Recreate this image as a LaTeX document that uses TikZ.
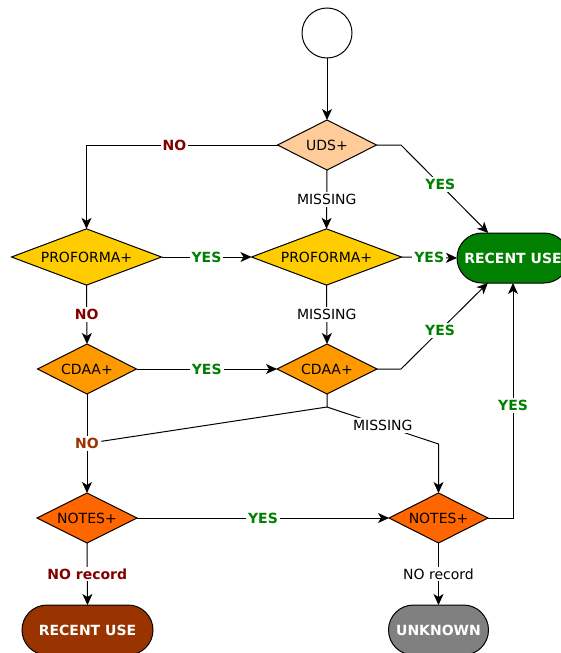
\documentclass[tikz,border=0pt]{standalone}
\usepackage{fontspec}
\setmainfont{DejaVu Sans}
\usetikzlibrary{shapes.geometric,arrows.meta}
\definecolor{udsc}{HTML}{FFCC99}
\definecolor{profc}{HTML}{FFCC00}
\definecolor{cdaac}{HTML}{FF9900}
\definecolor{notesc}{HTML}{FF6600}
\definecolor{greenc}{HTML}{007F00}
\definecolor{brownc}{HTML}{993300}
\definecolor{grayc}{HTML}{808080}
\definecolor{yesc}{HTML}{008000}
\definecolor{noc}{HTML}{800000}
\begin{document}
\begin{tikzpicture}[x=1pt,y=-1pt,
  every node/.style={font=\fontsize{14}{16}\selectfont},
  dec/.style={diamond, draw=black, line width=1pt, inner sep=0pt, outer sep=0pt, minimum height=50pt, aspect=2},
  term/.style={rectangle, rounded corners=25pt, draw=black, line width=1pt, minimum height=50pt, text=white, inner sep=0pt, outer sep=0pt, font=\fontsize{14}{16}\selectfont\bfseries},
  conn/.style={line width=1pt, -{Stealth[length=11pt,width=10pt,inset=3pt]}},
  plainline/.style={line width=1pt},
  lbl/.style={fill=white, inner sep=2pt},
  yeslbl/.style={lbl, text=yesc, font=\fontsize{14}{16}\selectfont\bfseries},
  nolbl/.style={lbl, text=noc, font=\fontsize{14}{16}\selectfont\bfseries},
  nolbltwo/.style={lbl, text=brownc, font=\fontsize{14}{16}\selectfont\bfseries}
]
\useasboundingbox (0,0) rectangle (561,653);
\fill[white] (0,0) rectangle (561,653);

% nodes
\node[circle, draw=black, line width=1pt, minimum size=50pt, inner sep=0pt, outer sep=0pt] (start) at (327,33) {};
\node[dec, fill=udsc, minimum width=99pt] (uds) at (327,145) {UDS+};
\node[dec, fill=profc, minimum width=150pt] (pl) at (86.5,257) {PROFORMA+};
\node[dec, fill=profc, minimum width=150pt] (pm) at (326.5,257) {PROFORMA+};
\node[term, fill=greenc, minimum width=112pt] (green) at (513,258) {RECENT USE};
\node[dec, fill=cdaac, minimum width=99pt] (cl) at (87,369) {CDAA+};
\node[dec, fill=cdaac, minimum width=100pt] (cm) at (327,369) {CDAA+};
\node[dec, fill=notesc, minimum width=100pt] (nl) at (87,518) {NOTES+};
\node[dec, fill=notesc, minimum width=99pt] (nr) at (438.5,518) {NOTES+};
\node[term, fill=brownc, minimum width=131pt] (brown) at (87.5,630) {RECENT USE};
\node[term, fill=grayc, minimum width=100pt] (unk) at (438.5,630) {UNKNOWN};

% helper coordinates
\coordinate (c1) at (401,145);
\coordinate (c2) at (401,369);
\coordinate (j1) at (327,407);
\coordinate (c3) at (438.5,444);
\coordinate (c4) at (513,518);

% connectors
\draw[conn] (start) -- (uds);
\draw[conn] (uds.west) -| node[nolbl, pos=0.27] {NO} (pl.north);
\draw[conn] (uds.east) -- (c1) -- node[yeslbl, pos=0.45] {YES} (green);
\draw[conn] (uds.south) -- node[lbl] {MISSING} (pm.north);
\draw[conn] (pl.east) -- node[yeslbl] {YES} (pm.west);
\draw[conn] (pm.east) -- node[yeslbl] {YES} (green.west);
\draw[conn] (pl.south) -- node[nolbl] {NO} (cl.north);
\draw[conn] (pm.south) -- node[lbl] {MISSING} (cm.north);
\draw[conn] (cl.east) -- node[yeslbl] {YES} (cm.west);
\draw[conn] (cm.east) -- (c2) -- node[yeslbl, pos=0.45] {YES} (green);
\draw[conn] (cl.south) -- node[nolbltwo] (nolab) {NO} (nl.north);
\draw[plainline] (cm.south) -- (j1) -- (nolab);
\draw[conn] (j1) -- node[lbl] {MISSING} (c3) -- (nr.north);
\draw[conn] (nl.east) -- node[yeslbl] {YES} (nr.west);
\draw[conn] (nr.east) -- (c4) -- node[yeslbl, pos=0.48] {YES} (green.south);
\draw[conn] (nl.south) -- node[nolbl] {NO record} (brown.north);
\draw[conn] (nr.south) -- node[lbl] {NO record} (unk.north);
\end{tikzpicture}
\end{document}
